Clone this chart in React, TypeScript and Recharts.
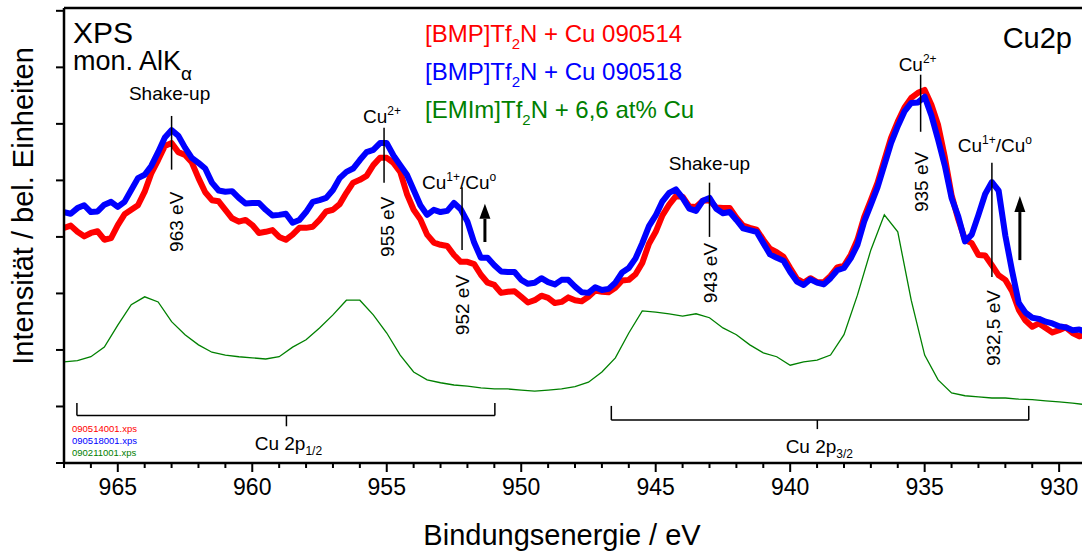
import React from "react";
import { LineChart, Line, XAxis, YAxis, ReferenceLine } from "recharts";

// fine grid (eV) for the two noisy [BMP]Tf2N spectra, read every 0.25 eV
const energiesFine = [
  967, 966.75, 966.5, 966.25, 966, 965.75, 965.5, 965.25, 965, 964.75, 964.5, 964.25, 964, 963.75,
  963.5, 963.25, 963, 962.75, 962.5, 962.25, 962, 961.75, 961.5, 961.25, 961, 960.75, 960.5,
  960.25, 960, 959.75, 959.5, 959.25, 959, 958.75, 958.5, 958.25, 958, 957.75, 957.5, 957.25, 957,
  956.75, 956.5, 956.25, 956, 955.75, 955.5, 955.25, 955, 954.75, 954.5, 954.25, 954, 953.75,
  953.5, 953.25, 953, 952.75, 952.5, 952.25, 952, 951.75, 951.5, 951.25, 951, 950.75, 950.5,
  950.25, 950, 949.75, 949.5, 949.25, 949, 948.75, 948.5, 948.25, 948, 947.75, 947.5, 947.25, 947,
  946.75, 946.5, 946.25, 946, 945.75, 945.5, 945.25, 945, 944.75, 944.5, 944.25, 944, 943.75,
  943.5, 943.25, 943, 942.75, 942.5, 942.25, 942, 941.75, 941.5, 941.25, 941, 940.75, 940.5,
  940.25, 940, 939.75, 939.5, 939.25, 939, 938.75, 938.5, 938.25, 938, 937.75, 937.5, 937.25, 937,
  936.75, 936.5, 936.25, 936, 935.75, 935.5, 935.25, 935, 934.75, 934.5, 934.25, 934, 933.75,
  933.5, 933.25, 933, 932.75, 932.5, 932.25, 932, 931.75, 931.5, 931.25, 931, 930.75, 930.5,
  930.25, 930, 929.75, 929.5, 929.25, 929,
];

// [BMP]Tf2N + Cu 090514
const redCounts = [
  4.16, 4.2, 4.09, 4.01, 4.07, 4.1, 3.95, 3.98, 4.21, 4.4,
  4.48, 4.56, 4.8, 5.13, 5.36, 5.61, 5.66, 5.5, 5.45, 5.32,
  5.04, 4.79, 4.65, 4.63, 4.48, 4.33, 4.27, 4.3, 4.21, 4.07,
  4.09, 4.12, 4.0, 3.95, 4.04, 4.16, 4.16, 4.18, 4.3, 4.45,
  4.48, 4.58, 4.78, 4.96, 5.01, 5.08, 5.27, 5.4, 5.4, 5.31,
  5.15, 4.76, 4.48, 4.31, 4.04, 3.9, 3.86, 3.84, 3.68, 3.56,
  3.56, 3.52, 3.33, 3.19, 3.15, 3.01, 3.03, 3.04, 2.94, 2.84,
  2.88, 2.96, 2.92, 2.83, 2.85, 2.93, 2.88, 2.86, 2.94, 3.05,
  3.03, 3.02, 3.1, 3.23, 3.24, 3.34, 3.54, 3.88, 4.09, 4.38,
  4.57, 4.72, 4.71, 4.54, 4.53, 4.64, 4.65, 4.52, 4.51, 4.51,
  4.34, 4.2, 4.16, 4.13, 3.95, 3.79, 3.73, 3.65, 3.45, 3.26,
  3.19, 3.27, 3.2, 3.2, 3.31, 3.46, 3.49, 3.68, 3.95, 4.35,
  4.65, 4.96, 5.36, 5.75, 6.04, 6.29, 6.46, 6.55, 6.6, 6.34,
  5.98, 5.41, 4.74, 4.31, 3.95, 3.89, 3.68, 3.67, 3.5, 3.32,
  3.24, 3.04, 2.71, 2.52, 2.41, 2.47, 2.39, 2.31, 2.35, 2.4,
  2.3, 2.24, 2.27,
];

// [BMP]Tf2N + Cu 090518
const blueCounts = [
  4.44, 4.41, 4.51, 4.56, 4.44, 4.45, 4.57, 4.62, 4.53, 4.62,
  4.83, 5.04, 5.1, 5.26, 5.5, 5.76, 5.89, 5.79, 5.58, 5.4,
  5.31, 5.21, 4.96, 4.82, 4.8, 4.81, 4.69, 4.59, 4.6, 4.6,
  4.48, 4.38, 4.39, 4.41, 4.25, 4.3, 4.44, 4.62, 4.65, 4.69,
  4.83, 5.04, 5.15, 5.21, 5.36, 5.5, 5.54, 5.66, 5.66, 5.44,
  5.27, 5.1, 4.83, 4.56, 4.39, 4.48, 4.44, 4.46, 4.6, 4.49,
  4.27, 3.9, 3.63, 3.63, 3.5, 3.39, 3.38, 3.38, 3.24, 3.17,
  3.19, 3.27, 3.2, 3.16, 3.24, 3.24, 3.12, 3.02, 3.01, 3.11,
  3.06, 3.08, 3.19, 3.37, 3.45, 3.62, 3.89, 4.19, 4.38, 4.63,
  4.78, 4.84, 4.69, 4.5, 4.46, 4.64, 4.69, 4.5, 4.42, 4.44,
  4.3, 4.15, 4.12, 4.09, 3.89, 3.69, 3.63, 3.58, 3.38, 3.21,
  3.15, 3.25, 3.19, 3.16, 3.27, 3.41, 3.45, 3.62, 3.86, 4.27,
  4.57, 4.88, 5.27, 5.66, 5.96, 6.22, 6.37, 6.38, 6.48, 6.15,
  5.72, 5.26, 4.69, 4.36, 3.92, 4.04, 4.39, 4.76, 4.97, 4.82,
  4.02, 3.4, 2.83, 2.66, 2.57, 2.55, 2.5, 2.47, 2.42, 2.4,
  2.35, 2.36, 2.32,
];

// coarse grid (eV) for the [EMIm]Tf2N spectrum, read every 0.5 eV
const energiesCoarse = [
  967, 966.5, 966, 965.5, 965, 964.5, 964, 963.5, 963, 962.5, 962, 961.5, 961, 960.5, 960, 959.5,
  959, 958.5, 958, 957.5, 957, 956.5, 956, 955.5, 955, 954.5, 954, 953.5, 953, 952.5, 952, 951.5,
  951, 950.5, 950, 949.5, 949, 948.5, 948, 947.5, 947, 946.5, 946, 945.5, 945, 944.5, 944, 943.5,
  943, 942.5, 942, 941.5, 941, 940.5, 940, 939.5, 939, 938.5, 938, 937.5, 937, 936.5, 936, 935.5,
  935, 934.5, 934, 933.5, 933, 932.5, 932, 931.5, 931, 930.5, 930, 929.5, 929,
];

// [EMIm]Tf2N + 6,6 at% Cu
const greenCounts = [
  1.79, 1.81, 1.88, 2.05, 2.44, 2.8, 2.94, 2.85, 2.5, 2.27, 2.09, 1.96, 1.91, 1.88, 1.86, 1.84,
  1.88, 2.05, 2.18, 2.39, 2.62, 2.88, 2.88, 2.62, 2.3, 1.91, 1.61, 1.47, 1.42, 1.38, 1.36, 1.33,
  1.31, 1.31, 1.29, 1.27, 1.29, 1.31, 1.35, 1.43, 1.61, 1.86, 2.3, 2.69, 2.67, 2.64, 2.6, 2.64,
  2.57, 2.39, 2.27, 2.09, 1.95, 1.88, 1.73, 1.79, 1.82, 1.91, 2.27, 2.97, 3.77, 4.39, 4.09, 2.88,
  1.91, 1.47, 1.24, 1.19, 1.17, 1.15, 1.15, 1.13, 1.12, 1.1, 1.08, 1.06, 1.03,
];

const xTicks = [
  930, 931, 932, 933, 934, 935, 936, 937, 938, 939, 940, 941, 942, 943, 944, 945, 946, 947, 948,
  949, 950, 951, 952, 953, 954, 955, 956, 957, 958, 959, 960, 961, 962, 963, 964, 965, 966, 967,
];
const yTicks = [0, 1, 2, 3, 4, 5, 6, 7, 8];

const redData = energiesFine.map((e, i) => ({ e, v: redCounts[i] }));
const blueData = energiesFine.map((e, i) => ({ e, v: blueCounts[i] }));
const greenData = energiesCoarse.map((e, i) => ({ e, v: greenCounts[i] }));

const FONT = "'Liberation Sans', Arial, Helvetica, sans-serif";
const W = 1082;
const H = 552;

type Mark = {
  e: number;
  y1: number;
  y2: number;
  top: "shake" | "cu2" | "cu1";
  ev: string;
  dx: number;
  topGap: number;
  rot: number;
  gap: number;
};

const peakMarks: Mark[] = [
  { e: 963, y1: 5.19, y2: 6.14, top: "shake", ev: "963 eV", dx: -2, topGap: 16, rot: 11, gap: 22 },
  { e: 955.1, y1: 4.96, y2: 5.93, top: "cu2", ev: "955 eV", dx: -2, topGap: 5, rot: 10, gap: 14 },
  { e: 952.2, y1: 3.77, y2: 4.88, top: "cu1", ev: "952 eV", dx: -3, topGap: -2, rot: 7, gap: 25 },
  { e: 943, y1: 4.0, y2: 4.96, top: "shake", ev: "943 eV", dx: 0, topGap: 13, rot: 8, gap: 6 },
  { e: 935.15, y1: 5.86, y2: 6.87, top: "cu2", ev: "935 eV", dx: -3, topGap: 4, rot: 7, gap: 20 },
  { e: 932.5, y1: 3.29, y2: 5.31, top: "cu1", ev: "932,5 eV", dx: 3, topGap: 11, rot: 8, gap: 13 },
];

const arrows = [
  { e: 951.35, y1: 3.91, y2: 4.32, head: 15 },
  { e: 931.46, y1: 3.59, y2: 4.44, head: 16 },
];

const brackets = [
  { from: 966.52, to: 950.98, mid: 958.73, base: 0.84, arm: 1.06, tick: 0.65, sub: "1/2" },
  { from: 946.65, to: 931.13, mid: 938.99, base: 0.76, arm: 1.01, tick: 0.6, sub: "3/2" },
];

const topText = (kind: Mark["top"]) => {
  if (kind === "shake") return "Shake-up";
  if (kind === "cu2")
    return (
      <>
        Cu
        <tspan dy={-8} fontSize={12}>
          2+
        </tspan>
      </>
    );
  return (
    <>
      Cu
      <tspan dy={-8} fontSize={12}>
        1+
      </tspan>
      <tspan dy={8}>/Cu</tspan>
      <tspan dy={-8} fontSize={12}>
        o
      </tspan>
    </>
  );
};

const markLabel = (m: Mark) => (props: any) => {
  const vb = props.viewBox || {};
  const x = vb.x ?? 0;
  const y = vb.y ?? 0;
  const h = vb.height ?? 0;
  return (
    <g fontFamily={FONT} fill="#000">
      <text x={x + m.dx} y={y - m.topGap} textAnchor="middle" fontSize={19}>
        {topText(m.top)}
      </text>
      <text
        transform={`translate(${x + m.rot},${y + h + m.gap}) rotate(-90)`}
        textAnchor="end"
        fontSize={19}
      >
        {m.ev}
      </text>
    </g>
  );
};

const arrowHead = (size: number) => (props: any) => {
  const vb = props.viewBox || {};
  const x = vb.x ?? 0;
  const y = vb.y ?? 0;
  return <polygon points={`${x - 5.5},${y} ${x + 5.5},${y} ${x},${y - size}`} fill="#000" />;
};

const bracketLabel = (sub: string) => (props: any) => {
  const vb = props.viewBox || {};
  const x = vb.x ?? 0;
  const y = vb.y ?? 0;
  const h = vb.height ?? 0;
  return (
    <text x={x + 2} y={y + h + 24} textAnchor="middle" fontSize={19} fontFamily={FONT} fill="#000">
      Cu 2p
      <tspan dy={5} fontSize={12}>
        {sub}
      </tspan>
    </text>
  );
};

const XTick = (props: any) => {
  const { x, y, payload } = props;
  const v = payload.value;
  const major = v % 5 === 0;
  return (
    <g>
      <line x1={x} x2={x} y1={y} y2={y + (major ? 9 : 5)} stroke="#000" strokeWidth={2} />
      {major && (
        <text x={x} y={y + 32} textAnchor="middle" fontSize={23} fontFamily={FONT} fill="#000">
          {v}
        </text>
      )}
    </g>
  );
};

const YTick = (props: any) => {
  const { x, y } = props;
  return <line x1={x} x2={x + 8} y1={y} y2={y} stroke="#000" strokeWidth={2} />;
};

export default function App() {
  return (
    <div style={{ position: "relative", width: W, height: H, background: "#fff" }}>
      <style>{"body{margin:0}"}</style>
      <LineChart width={W} height={H} margin={{ top: 8, right: 0, bottom: 0, left: 48 }}>
        <XAxis
          dataKey="e"
          type="number"
          domain={[929.15, 967]}
          allowDataOverflow
          reversed
          ticks={xTicks}
          interval={0}
          tick={<XTick />}
          tickLine={false}
          tickSize={0}
          tickMargin={0}
          height={89}
          axisLine={{ stroke: "#000", strokeWidth: 2.5 }}
        />
        <YAxis
          type="number"
          domain={[0, 8.05]}
          ticks={yTicks}
          interval={0}
          width={16}
          tick={<YTick />}
          tickLine={false}
          tickSize={8}
          tickMargin={0}
          axisLine={{ stroke: "#000", strokeWidth: 2.5 }}
        />
        <ReferenceLine y={8.05} stroke="#000" strokeWidth={2.5} ifOverflow="visible" />

        <Line
          data={greenData}
          dataKey="v"
          name="[EMIm]Tf2N + 6,6 at% Cu"
          stroke="#008000"
          strokeWidth={1.3}
          dot={false}
          isAnimationActive={false}
        />
        <Line
          data={redData}
          dataKey="v"
          name="[BMP]Tf2N + Cu 090514"
          stroke="#ff0000"
          strokeWidth={6}
          strokeLinejoin="round"
          dot={false}
          isAnimationActive={false}
        />
        <Line
          data={blueData}
          dataKey="v"
          name="[BMP]Tf2N + Cu 090518"
          stroke="#0000ff"
          strokeWidth={6}
          strokeLinejoin="round"
          dot={false}
          isAnimationActive={false}
        />

        {peakMarks.map((m) => (
          <ReferenceLine
            key={m.ev}
            segment={[
              { x: m.e, y: m.y1 },
              { x: m.e, y: m.y2 },
            ]}
            stroke="#000"
            strokeWidth={1.5}
            ifOverflow="visible"
            label={markLabel(m)}
          />
        ))}

        {arrows.map((a) => (
          <ReferenceLine
            key={a.e}
            segment={[
              { x: a.e, y: a.y1 },
              { x: a.e, y: a.y2 },
            ]}
            stroke="#000"
            strokeWidth={3}
            ifOverflow="visible"
            label={arrowHead(a.head)}
          />
        ))}

        {brackets.map((b) => [
          <ReferenceLine
            key={b.sub + "h"}
            segment={[
              { x: b.from, y: b.base },
              { x: b.to, y: b.base },
            ]}
            stroke="#000"
            strokeWidth={1.5}
            ifOverflow="visible"
          />,
          <ReferenceLine
            key={b.sub + "l"}
            segment={[
              { x: b.from, y: b.base },
              { x: b.from, y: b.arm },
            ]}
            stroke="#000"
            strokeWidth={1.5}
            ifOverflow="visible"
          />,
          <ReferenceLine
            key={b.sub + "r"}
            segment={[
              { x: b.to, y: b.base },
              { x: b.to, y: b.arm },
            ]}
            stroke="#000"
            strokeWidth={1.5}
            ifOverflow="visible"
          />,
          <ReferenceLine
            key={b.sub + "m"}
            segment={[
              { x: b.mid, y: b.tick },
              { x: b.mid, y: b.base },
            ]}
            stroke="#000"
            strokeWidth={1.5}
            ifOverflow="visible"
            label={bracketLabel(b.sub)}
          />,
        ])}
      </LineChart>

      <svg
        width={W}
        height={H}
        style={{ position: "absolute", left: 0, top: 0, pointerEvents: "none" }}
        fontFamily={FONT}
      >
        <text x={73} y={43} fontSize={30} fill="#000">
          XPS
        </text>
        <text x={73} y={70} fontSize={27} fill="#000">
          mon. AlK
          <tspan dy={10} fontSize={19}>
            α
          </tspan>
        </text>
        <text x={1072} y={48} fontSize={29} textAnchor="end" fill="#000">
          Cu2p
        </text>

        <text x={425} y={42} fontSize={24} fill="#ff0000">
          [BMP]Tf
          <tspan dy={7} fontSize={15}>
            2
          </tspan>
          <tspan dy={-7}>N + Cu 090514</tspan>
        </text>
        <text x={425} y={80} fontSize={24} fill="#0000ff">
          [BMP]Tf
          <tspan dy={7} fontSize={15}>
            2
          </tspan>
          <tspan dy={-7}>N + Cu 090518</tspan>
        </text>
        <text x={425} y={118} fontSize={24} fill="#008000">
          [EMIm]Tf
          <tspan dy={7} fontSize={15}>
            2
          </tspan>
          <tspan dy={-7}>N + 6,6 at% Cu</tspan>
        </text>

        <text x={72} y={432} fontSize={9.5} fill="#ff0000">
          090514001.xps
        </text>
        <text x={72} y={444} fontSize={9.5} fill="#0000ff">
          090518001.xps
        </text>
        <text x={72} y={456} fontSize={9.5} fill="#008000">
          090211001.xps
        </text>

        <text x={562} y={545} fontSize={29} textAnchor="middle" fill="#000">
          Bindungsenergie / eV
        </text>
        <text
          transform="translate(33,206) rotate(-90)"
          fontSize={29}
          textAnchor="middle"
          fill="#000"
        >
          Intensität / bel. Einheiten
        </text>
      </svg>
    </div>
  );
}
